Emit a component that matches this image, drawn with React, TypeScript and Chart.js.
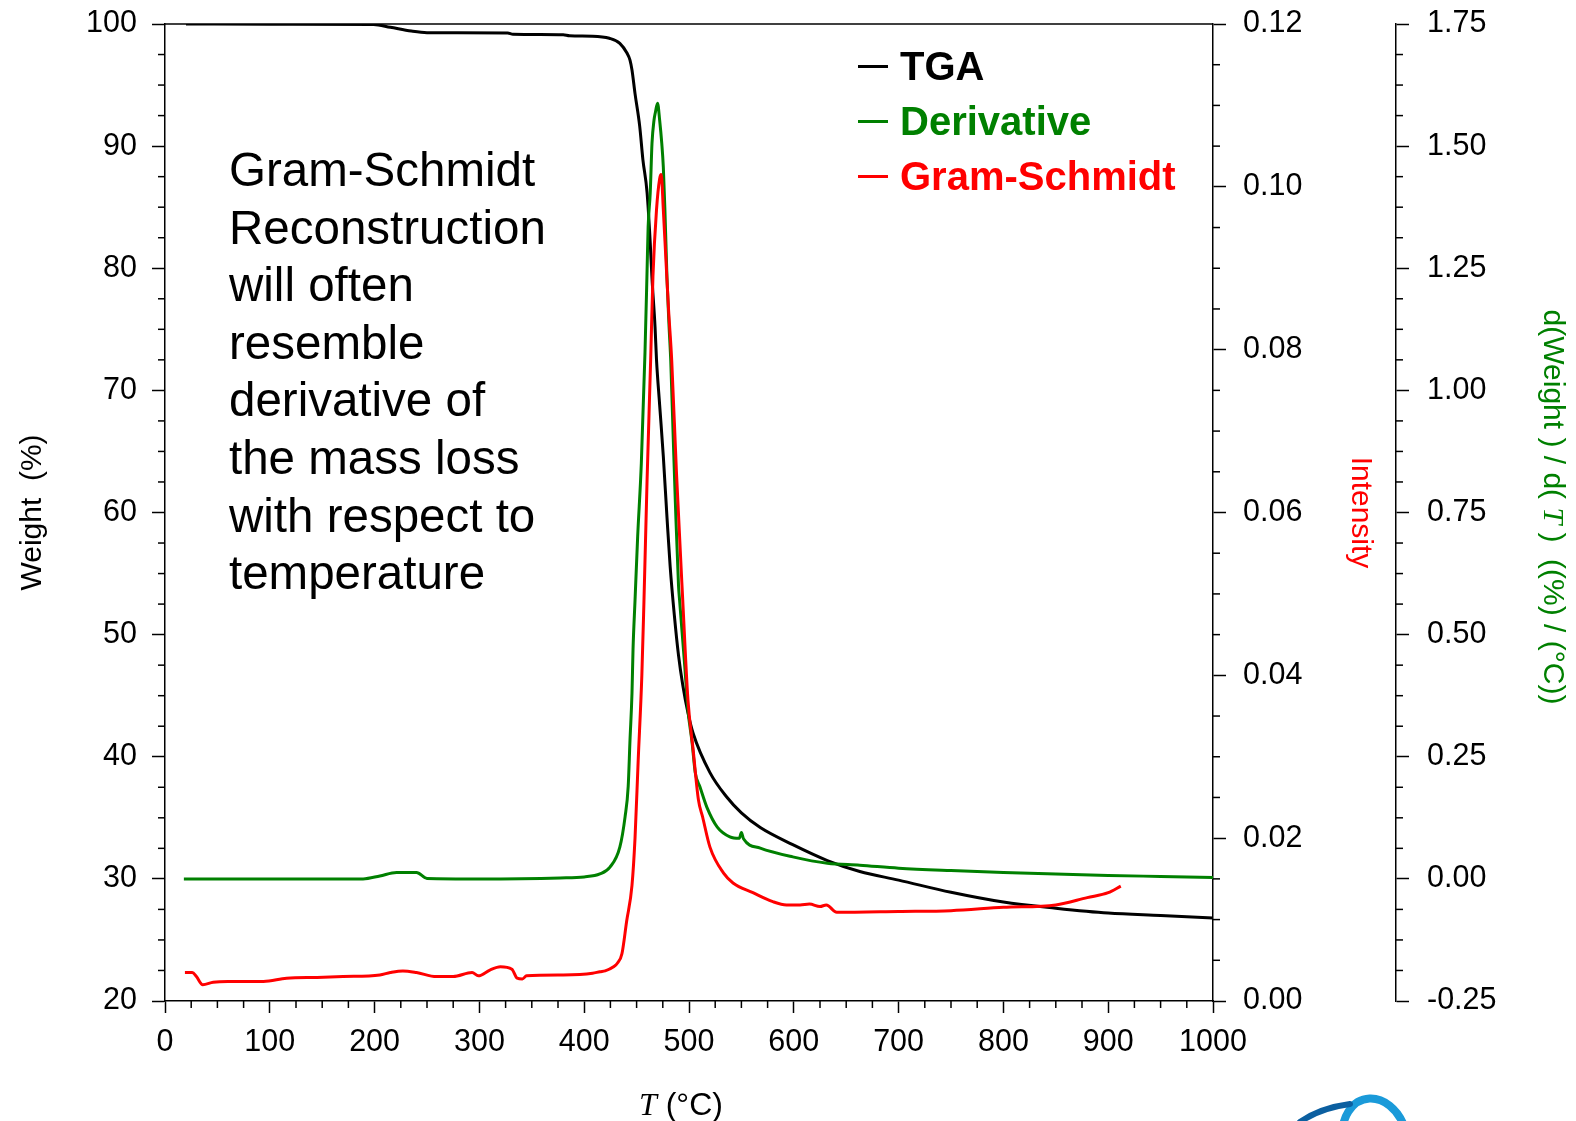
import { useEffect, useRef } from 'react';
import { Chart, registerables } from 'chart.js';

Chart.register(...registerables);

const SANS = '"Liberation Sans", Arial, Helvetica, sans-serif';
const SERIF = '"Liberation Serif", "DejaVu Serif", "Times New Roman", serif';

// ---- axis ranges / ticks ----
const X_MIN = 0, X_MAX = 1000, X_STEP = 100, X_MINOR = 25;
const W_MIN = 20, W_MAX = 100, W_STEP = 10, W_MINOR = 2.5;
const I_MIN = 0, I_MAX = 0.12, I_STEP = 0.02, I_MINOR = 0.005;
const D_MIN = -0.25, D_MAX = 1.75, D_STEP = 0.25, D_MINOR = 0.0625;

// ---- TGA (Weight %) ----
const tgaT = [20, 100, 199, 215, 235, 250, 327, 332, 380, 386, 408, 424, 434, 440.8, 443.7, 445.6, 448.5, 453, 456, 460, 463, 464.6, 467.6, 469, 472, 475.5, 479, 482, 486, 490, 494, 499, 504, 520, 536, 550, 568, 599, 632, 663, 700, 750, 800, 850, 900, 950, 1000];
const tgaW = [100.0, 99.98, 99.96, 99.73, 99.42, 99.29, 99.26, 99.16, 99.12, 99.03, 99.0, 98.83, 98.42, 97.62, 97.05, 96.23, 94.3, 91.6, 88.9, 86.2, 82.1, 79.3, 75.2, 72.5, 68.8, 64.6, 59.6, 55.6, 51.6, 48.3, 45.9, 43.6, 41.9, 38.7, 36.7, 35.4, 34.2, 32.8, 31.5, 30.6, 29.9, 28.9, 28.1, 27.6, 27.2, 27.0, 26.8];

// ---- Derivative d(Weight)/dT ----
const derT = [18, 100, 189, 205, 221, 240, 250, 300, 377, 400, 415, 424.6, 434, 439, 442, 443.7, 445.6, 446.6, 448.5, 451, 454.5, 458, 460, 461, 463, 464.7, 466.6, 468, 470, 472, 474, 475.5, 477, 478, 479, 481, 482.6, 485, 487, 490, 491, 496, 499, 503, 506, 510.5, 517, 527, 539, 548, 550, 552, 568, 599, 632, 663, 700, 750, 800, 850, 900, 950, 1000];
const derD = [0.0, 0.0, 0.0, 0.006, 0.013, 0.013, 0.001, 0.0, 0.002, 0.004, 0.01, 0.024, 0.065, 0.127, 0.19, 0.284, 0.38, 0.47, 0.57, 0.70, 0.85, 1.077, 1.246, 1.334, 1.404, 1.506, 1.553, 1.57, 1.588, 1.553, 1.506, 1.457, 1.37, 1.30, 1.23, 1.13, 1.06, 0.90, 0.77, 0.60, 0.571, 0.434, 0.346, 0.278, 0.217, 0.188, 0.147, 0.106, 0.086, 0.083, 0.095, 0.082, 0.063, 0.045, 0.032, 0.028, 0.022, 0.017, 0.013, 0.010, 0.007, 0.005, 0.003];

// ---- Gram-Schmidt intensity ----
const gsT = [19, 26, 30, 36, 46, 60, 94, 116, 145, 170, 205, 215, 227, 240, 259, 275, 293, 299, 310, 320, 331, 336, 341, 345, 380, 408, 415, 420, 428, 432, 436, 440.5, 445.6, 448.5, 451.5, 455, 457, 460, 463.4, 465.6, 469, 472, 473.5, 475.5, 478, 480.5, 483.5, 488, 494, 499, 504, 509, 513, 520, 533, 542, 561, 580, 593, 606, 615, 625, 631, 641, 700, 750, 800, 850, 880, 900, 912];
const gsI = [0.0035, 0.0035, 0.003, 0.002, 0.0023, 0.0024, 0.0024, 0.0028, 0.0029, 0.003, 0.0032, 0.0035, 0.0037, 0.0035, 0.003, 0.003, 0.0035, 0.0031, 0.0038, 0.0042, 0.0039, 0.0028, 0.0027, 0.0031, 0.0032, 0.0034, 0.0036, 0.0037, 0.0042, 0.0047, 0.0058, 0.0098, 0.0142, 0.0200, 0.0295, 0.040, 0.049, 0.064, 0.0787, 0.089, 0.0972, 0.101, 0.1015, 0.0972, 0.091, 0.0849, 0.0787, 0.065, 0.0493, 0.037, 0.0308, 0.0247, 0.0226, 0.0189, 0.0157, 0.0145, 0.0133, 0.0122, 0.0118, 0.0118, 0.0119, 0.0116, 0.0118, 0.0109, 0.011, 0.0111, 0.0115, 0.0118, 0.0127, 0.0133, 0.0141];

// ---- legend / annotation text ----
const legendLabels = ['TGA', 'Derivative', 'Gram-Schmidt'];
const legendColors = ['#000000', '#008000', '#ff0000'];
const noteLines = ['Gram-Schmidt', 'Reconstruction', 'will often', 'resemble', 'derivative of', 'the mass loss', 'with respect to', 'temperature'];

const toXY = (xs: number[], ys: number[]) => xs.map((x, i) => ({ x, y: ys[i] }));

function drawMinor(ctx: CanvasRenderingContext2D, scale: any, min: number, max: number, minor: number, major: number, side: string) {
  const n = Math.round((max - min) / minor);
  const per = Math.round(major / minor);
  for (let i = 0; i <= n; i++) {
    if (i % per === 0) continue;
    const p = scale.getPixelForValue(min + i * minor);
    ctx.beginPath();
    if (side === 'left') { ctx.moveTo(scale.right, p); ctx.lineTo(scale.right - 7, p); }
    else if (side === 'right') { ctx.moveTo(scale.left, p); ctx.lineTo(scale.left + 7, p); }
    else { ctx.moveTo(p, scale.top); ctx.lineTo(p, scale.top + 7); }
    ctx.stroke();
  }
}

const decor = {
  id: 'decor',
  afterDraw(chart: any) {
    const ctx: CanvasRenderingContext2D = chart.ctx;
    const { chartArea, scales } = chart;
    ctx.save();
    // top frame
    ctx.strokeStyle = '#000';
    ctx.lineWidth = 1.5;
    ctx.beginPath();
    ctx.moveTo(chartArea.left, chartArea.top);
    ctx.lineTo(chartArea.right, chartArea.top);
    ctx.stroke();
    // minor ticks
    drawMinor(ctx, scales.x, X_MIN, X_MAX, X_MINOR, X_STEP, 'bottom');
    drawMinor(ctx, scales.y, W_MIN, W_MAX, W_MINOR, W_STEP, 'left');
    drawMinor(ctx, scales.y1, I_MIN, I_MAX, I_MINOR, I_STEP, 'right');
    drawMinor(ctx, scales.y2, D_MIN, D_MAX, D_MINOR, D_STEP, 'right');

    // legend
    ctx.font = `bold 40px ${SANS}`;
    ctx.textBaseline = 'alphabetic';
    ctx.textAlign = 'left';
    legendLabels.forEach((lab, i) => {
      const cy = 66.5 + i * 55;
      ctx.strokeStyle = legendColors[i];
      ctx.lineWidth = 3;
      ctx.beginPath();
      ctx.moveTo(858, cy);
      ctx.lineTo(888, cy);
      ctx.stroke();
      ctx.fillStyle = legendColors[i];
      ctx.fillText(lab, 900, cy + 13);
    });

    // annotation
    ctx.fillStyle = '#000';
    ctx.font = `47.5px ${SANS}`;
    noteLines.forEach((l, i) => ctx.fillText(l, 229, 186 + i * 57.6));

    // x title: T (°C)
    ctx.font = `italic 32px ${SERIF}`;
    const tW = ctx.measureText('T').width;
    ctx.fillText('T', 639, 1115);
    ctx.font = `32px ${SANS}`;
    ctx.fillText(' (°C)', 639 + tW, 1115);

    // derivative axis title (rotated)
    const parts: [string, boolean][] = [['d(Weight ) / d( ', false], ['T', true], [' )  ((%) / (°C))', false]];
    const fontOf = (it: boolean) => (it ? `italic 30px ${SERIF}` : `30px ${SANS}`);
    let total = 0;
    parts.forEach(([s, it]) => { ctx.font = fontOf(it); total += ctx.measureText(s).width; });
    ctx.save();
    ctx.translate(1552, 507);
    ctx.rotate(Math.PI / 2);
    ctx.fillStyle = '#008000';
    ctx.textBaseline = 'middle';
    let xx = -total / 2;
    parts.forEach(([s, it]) => { ctx.font = fontOf(it); ctx.fillText(s, xx, 0); xx += ctx.measureText(s).width; });
    ctx.restore();

    // logo (partial, bottom right)
    ctx.lineCap = 'round';
    ctx.strokeStyle = '#1a9ad9';
    ctx.lineWidth = 8;
    ctx.beginPath();
    ctx.ellipse(1375, 1140, 32, 42, -0.25, Math.PI * 1.05, Math.PI * 1.95);
    ctx.stroke();
    ctx.strokeStyle = '#0b5fa0';
    ctx.lineWidth = 6;
    ctx.beginPath();
    ctx.moveTo(1300, 1122);
    ctx.quadraticCurveTo(1320, 1108, 1350, 1104);
    ctx.stroke();
    ctx.restore();
  },
};

export default function App() {
  const ref = useRef<HTMLCanvasElement>(null);
  useEffect(() => {
    document.body.style.margin = '0';
    const tickFont = { family: SANS, size: 30.5 };
    const grid = { drawOnChartArea: false, drawTicks: true, tickColor: '#000', tickWidth: 1.5 };
    const border = { display: true, color: '#000', width: 1.5 };
    const fmt2 = (v: any) => Number(v).toFixed(2);
    const fmt0 = (v: any) => String(Math.round(Number(v)));
    const vFit = (w: number) => (s: any) => { s.width = w; s.paddingTop = 0; s.paddingBottom = 0; };
    const chart = new Chart(ref.current as HTMLCanvasElement, {
      type: 'line',
      data: {
        datasets: [
          { label: 'Gram-Schmidt', data: toXY(gsT, gsI), yAxisID: 'y1', borderColor: '#ff0000', borderWidth: 3, pointRadius: 0, order: 0, cubicInterpolationMode: 'monotone' },
          { label: 'Derivative', data: toXY(derT, derD), yAxisID: 'y2', borderColor: '#008000', borderWidth: 3, pointRadius: 0, order: 1, cubicInterpolationMode: 'monotone' },
          { label: 'TGA', data: toXY(tgaT, tgaW), yAxisID: 'y', borderColor: '#000000', borderWidth: 3, pointRadius: 0, order: 2, cubicInterpolationMode: 'monotone' },
        ] as any,
      },
      options: {
        responsive: false,
        animation: false,
        layout: { padding: { top: 24, left: 0, right: 0, bottom: 0 } },
        plugins: { legend: { display: false }, tooltip: { enabled: false } },
        scales: {
          x: {
            type: 'linear', position: 'bottom', min: X_MIN, max: X_MAX,
            ticks: { stepSize: X_STEP, font: tickFont, color: '#000', padding: 11, maxRotation: 0, autoSkip: false, callback: fmt0 },
            grid: { ...grid, tickLength: 12 }, border,
            afterFit: (s: any) => { s.height = 120; s.paddingLeft = 0; s.paddingRight = 0; },
          },
          y: {
            type: 'linear', position: 'left', min: W_MIN, max: W_MAX,
            ticks: { stepSize: W_STEP, font: tickFont, color: '#000', padding: 15, callback: fmt0 },
            grid: { ...grid, tickLength: 13 }, border,
            title: { display: true, text: 'Weight  (%)', color: '#000', font: { family: SANS, size: 30 }, padding: { top: 15, bottom: 0 } },
            afterFit: vFit(165),
          },
          y1: {
            type: 'linear', position: 'right', min: I_MIN, max: I_MAX, weight: 0,
            ticks: { stepSize: I_STEP, font: tickFont, color: '#000', padding: 17, callback: fmt2 },
            grid: { ...grid, tickLength: 13 }, border,
            title: { display: true, text: 'Intensity', color: '#ff0000', font: { family: SANS, size: 30 }, padding: { top: 18, bottom: 0 } },
            afterFit: vFit(183),
          },
          y2: {
            type: 'linear', position: 'right', min: D_MIN, max: D_MAX, weight: 1,
            ticks: { stepSize: D_STEP, font: tickFont, color: '#000', padding: 18, callback: fmt2 },
            grid: { ...grid, tickLength: 13 }, border,
            afterFit: vFit(180),
          },
        },
      } as any,
      plugins: [decor],
    });
    return () => chart.destroy();
  }, []);
  return <canvas ref={ref} width={1576} height={1121} style={{ display: 'block' }} />;
}
